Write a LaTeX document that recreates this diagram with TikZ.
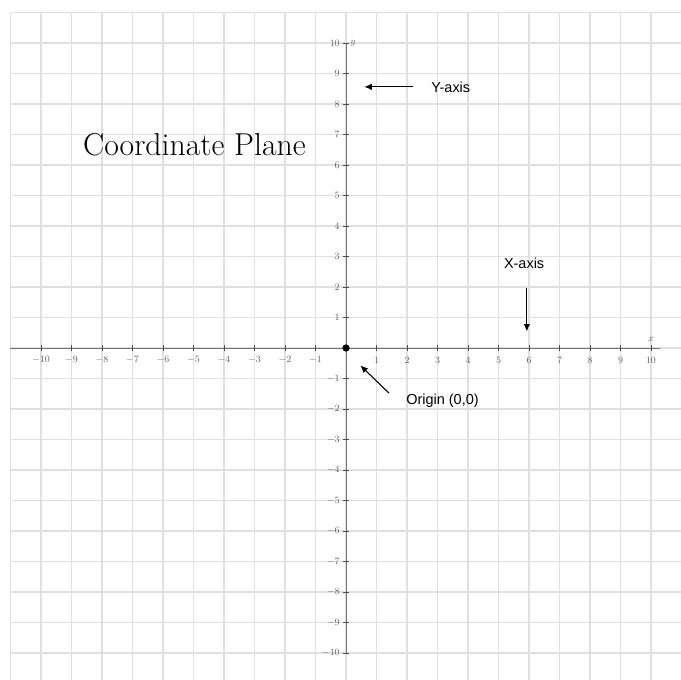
\documentclass[tikz,border=0pt]{standalone}
\usepackage{fontspec}
\newfontfamily\labelfont{Liberation Sans}
\usetikzlibrary{arrows.meta}
\definecolor{gridc}{gray}{0.88}
\definecolor{axisc}{gray}{0.45}
\definecolor{tickc}{rgb}{0.36,0.36,0.48}
\begin{document}
\begin{tikzpicture}[
  gridline/.style={draw=gridc, line width=1.2pt},
  axisline/.style={draw=axisc, line width=0.9pt},
  tickmark/.style={draw=black!70, line width=0.8pt},
  ticklab/.style={text=tickc, font=\fontsize{9.5}{10}\selectfont, inner sep=0pt},
  note/.style={font=\labelfont\fontsize{13.5}{15}\selectfont, inner sep=0pt},
  pointer/.style={-{Latex[length=7pt,width=6pt]}, line width=1pt, draw=black}
]
\useasboundingbox (-11.344,-10.885) rectangle (10.984,11.41);
\clip (-11.344,-10.885) rectangle (10.984,11.41);
\fill[white] (-11.344,-10.885) rectangle (10.984,11.41);
% grid
\draw[gridline] (-11,-11.5) grid (11.5,11);
% axes
\draw[axisline] (-11.02,0) -- (10.3,0);
\draw[axisline] (0,-10) -- (0,10);
% ticks and labels
\foreach \i in {-10,...,-1,1,2,...,10}{
  \draw[tickmark] (\i,-0.1) -- (\i,0.1);
  \draw[tickmark] (-0.1,\i) -- (0.1,\i);
  \node[ticklab] (xl\i) at (\i,-0.4) {$\i$};
  \node[ticklab, anchor=east] (yl\i) at (-0.2,\i) {$\i$};
}
\node[ticklab, anchor=west] (ylab) at (0.14,10) {$y$};
\node[ticklab] (xlab) at (10,0.27) {$x$};
% origin
\node[circle, fill=black, inner sep=0pt, minimum size=0.24cm] (origin) at (0,0) {};
% title
\node[font=\fontsize{29.6}{32}\selectfont, inner sep=0pt] (title) at (-4.97,6.68) {Coordinate Plane};
% annotations
\node[note, anchor=west] (ytext) at (2.79,8.56) {Y-axis};
\coordinate (ytail) at (2.20,8.56);
\coordinate (yhead) at (0.60,8.56);
\draw[pointer] (ytail) -- (yhead);

\node[note, anchor=west] (otext) at (1.97,-1.74) {Origin (0,0)};
\coordinate (otail) at (1.41,-1.48);
\coordinate (ohead) at (0.47,-0.57);
\draw[pointer] (otail) -- (ohead);

\node[note] (xtext) at (5.84,2.79) {X-axis};
\coordinate (xtail) at (5.93,1.97);
\coordinate (xhead) at (5.93,0.54);
\draw[pointer] (xtail) -- (xhead);
\end{tikzpicture}
\end{document}
